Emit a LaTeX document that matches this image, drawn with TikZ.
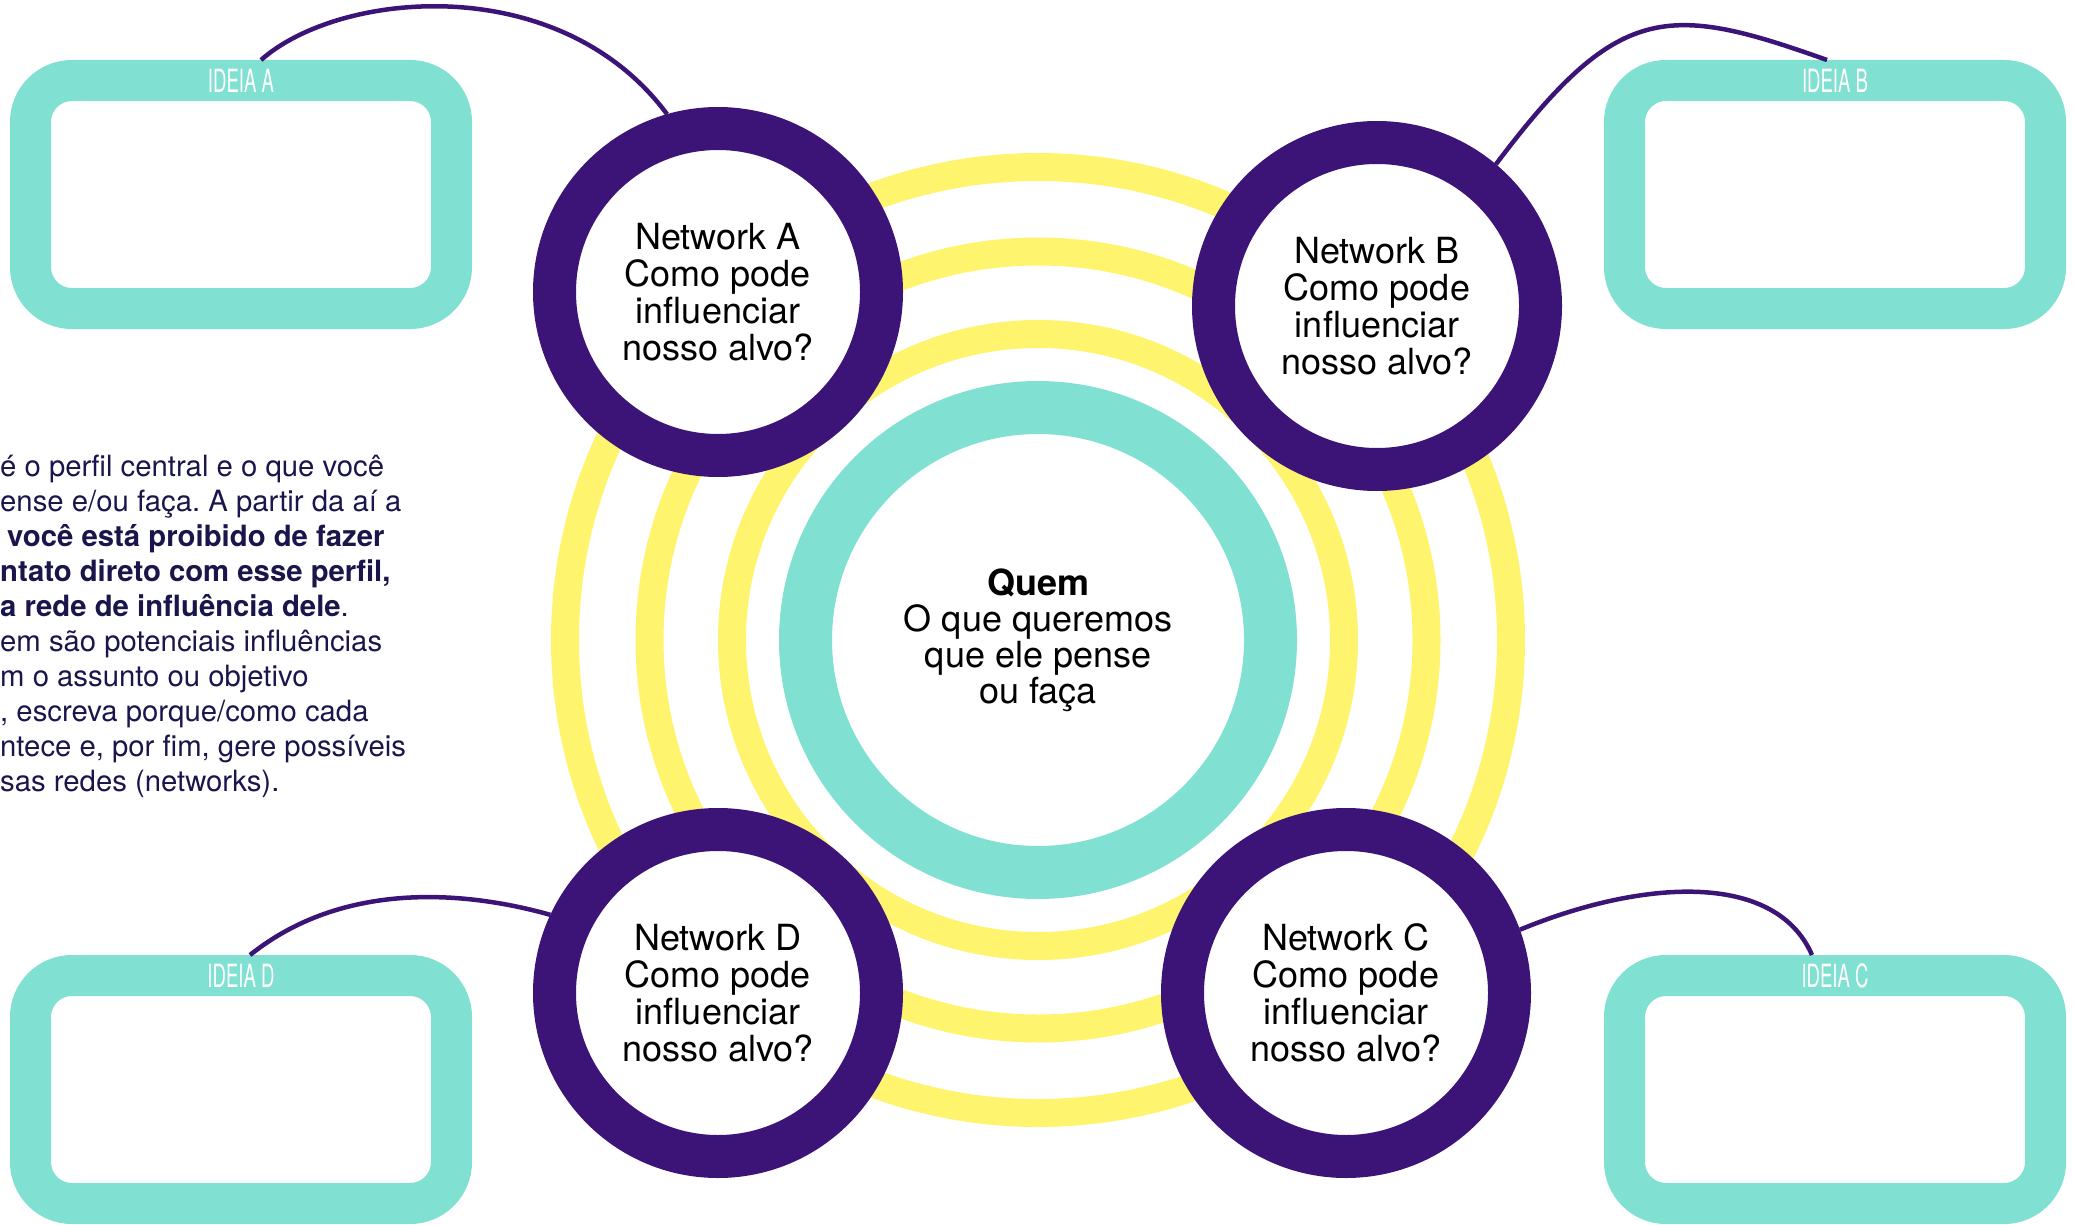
\documentclass[tikz,border=0pt]{standalone}
\usepackage{fontspec}
\setmainfont{TeX Gyre Heros}
\newfontfamily\ideiafont[FakeStretch=0.58]{TeX Gyre Heros}
\frenchspacing

\definecolor{ideiaverde}{RGB}{128,224,210}
\definecolor{netroxo}{RGB}{60,20,120}
\definecolor{anelamarelo}{RGB}{254,244,110}
\definecolor{notaazul}{RGB}{26,22,76}

\begin{document}
\begin{tikzpicture}[x=1pt, y=-1pt,
        ring/.style={draw=anelamarelo, line width=28pt},
        quemcircle/.style={circle, draw=ideiaverde, fill=white, line width=53pt, minimum size=465pt, inner sep=0pt, align=center, font=\fontsize{36}{36}\selectfont},
        netcircle/.style={circle, draw=netroxo, fill=white, line width=43pt, minimum size=327pt, inner sep=0pt, align=center, font=\fontsize{36}{37}\selectfont},
        ideiabox/.style={rectangle, draw=ideiaverde, fill=white, line width=41pt, rounded corners=41.5pt, minimum width=421pt, minimum height=228pt, inner sep=0pt},
        ideialabel/.style={text=white, inner sep=0pt, font=\ideiafont\fontsize{32}{32}\selectfont},
        link/.style={draw=netroxo, line width=4.5pt}]
        \useasboundingbox (0, 0) rectangle (2074, 1225);
        %\draw[color=lightgray] (0, 0) grid[step=100] (2074, 1225);
        \coordinate (centro) at (1038, 640);
        \foreach \r in {306, 388.5, 473}
            \draw[ring] (centro) circle[radius=\r];
        \node[quemcircle] (quem) at (centro) {\textbf{Quem}\\O que queremos\\que ele pense\\ou faça};
        \node[netcircle] (netA) at (718, 292) {Network A\\Como pode\\influenciar\\nosso alvo?};
        \node[netcircle] (netB) at (1377, 306) {Network B\\Como pode\\influenciar\\nosso alvo?};
        \node[netcircle] (netC) at (1346, 993) {Network C\\Como pode\\influenciar\\nosso alvo?};
        \node[netcircle] (netD) at (718, 993) {Network D\\Como pode\\influenciar\\nosso alvo?};
        \node[ideiabox] (ideiaA) at (241, 194.5) {};
        \node[ideiabox] (ideiaB) at (1835, 194.5) {};
        \node[ideiabox] (ideiaC) at (1835, 1089.5) {};
        \node[ideiabox] (ideiaD) at (241, 1089.5) {};
        \node[ideialabel] (rotuloA) at ([yshift=-20.5pt]ideiaA.north) {IDEIA A};
        \node[ideialabel] (rotuloB) at ([yshift=-20.5pt]ideiaB.north) {IDEIA B};
        \node[ideialabel] (rotuloC) at ([yshift=-20.5pt]ideiaC.north) {IDEIA C};
        \node[ideialabel] (rotuloD) at ([yshift=-20.5pt]ideiaD.north) {IDEIA D};
        \draw[link] ([xshift=20pt]ideiaA.north) .. controls (340, -10) and (560, -30) .. (netA.106);
        \draw[link] (netB.50) .. controls (1618, 2) and (1667, 3) .. ([xshift=-8pt]ideiaB.north);
        \draw[link] (netC.20) .. controls (1640, 880) and (1775, 870) .. ([xshift=-23pt]ideiaC.north);
        \draw[link] ([xshift=9pt]ideiaD.north) .. controls (350, 875) and (480, 895) .. (netD.155);
        \node[anchor=west, align=left, inner sep=0pt, text=notaazul, font=\fontsize{29.3}{35}\selectfont] (nota) at (0, 626.5)
            {é o perfil central e o que você\\
            ense e/ou faça. A partir da aí a\\
            \hspace*{7pt}\textbf{você está proibido de fazer}\\
            \textbf{ntato direto com esse perfil,}\\
            \textbf{a rede de influência dele}.\\
            em são potenciais influências\\
            m o assunto ou objetivo\\
            , escreva porque/como cada\\
            ntece e, por fim, gere possíveis\\
            sas redes (networks).};
\end{tikzpicture}
\end{document}
